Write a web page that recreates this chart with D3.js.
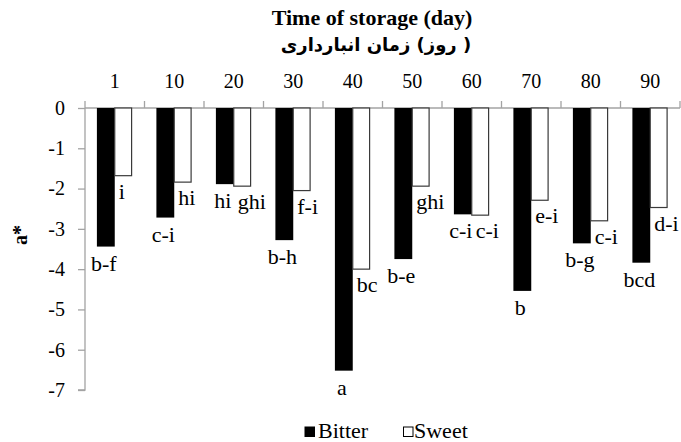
<!DOCTYPE html>
<html>
<head>
<meta charset="utf-8">
<script src="https://cdn.jsdelivr.net/npm/d3@7/dist/d3.min.js"></script>
</head>
<body style="margin:0">
<svg id="chart" width="681" height="442"></svg>
<script>
// Storage days (categories along the top axis)
const days = ["1", "10", "20", "30", "40", "50", "60", "70", "80", "90"];
const seriesNames = ["Bitter", "Sweet"];
// a* colour values per storage day
const bitter = [-3.44, -2.72, -1.89, -3.28, -6.52, -3.75, -2.64, -4.54, -3.36, -3.84];
const sweet  = [-1.68, -1.84, -1.94, -2.05, -4.00, -1.94, -2.66, -2.29, -2.80, -2.47];
// Mean-separation letters
const bitterLetters = ["b-f", "c-i", "hi", "b-h", "a", "b-e", "c-i", "b", "b-g", "bcd"];
const sweetLetters  = ["i", "hi", "ghi", "f-i", "bc", "ghi", "c-i", "e-i", "c-i", "d-i"];
const yTicks = [0, -1, -2, -3, -4, -5, -6, -7];

const svg = d3.select("#chart");
const m = { left: 85, right: 680, top: 108, bottom: 390 };
const axisColor = "#a3a3a3";

// Serif text helper: every label uses the same Times-style face
function roman(sel, size) {
  return sel.attr("font-family", "Times New Roman")
    .style("font-family", "'Times New Roman', 'Liberation Serif', Tinos, serif")
    .attr("font-size", size)
    .attr("fill", "#000");
}

const x0 = d3.scaleBand().domain(days).range([m.left, m.right])
  .paddingInner(0.4).paddingOuter(0.2);
const x1 = d3.scaleBand().domain(seriesNames).range([0, x0.bandwidth()]);
const y = d3.scaleLinear().domain([-7, 0]).range([m.bottom, m.top]);

// Zero line with category boundary ticks
const g = svg.append("g");
g.append("line").attr("x1", m.left).attr("x2", m.right).attr("y1", y(0)).attr("y2", y(0))
  .attr("stroke", axisColor).attr("stroke-width", 1.3);
g.selectAll("line.edge").data(d3.range(days.length + 1)).join("line")
  .attr("class", "edge")
  .attr("x1", i => m.left + i * x0.step()).attr("x2", i => m.left + i * x0.step())
  .attr("y1", y(0)).attr("y2", y(0) - 7)
  .attr("stroke", axisColor).attr("stroke-width", 1.3);

// Day labels above the zero line
roman(g.selectAll("text.day").data(days).join("text")
  .attr("class", "day")
  .attr("x", d => x0(d) + x0.bandwidth() / 2)
  .attr("y", 88)
  .attr("text-anchor", "middle"), 20)
  .text(d => d);

// Left value axis
const yAxis = d3.axisLeft(y).tickValues(yTicks).tickSize(7).tickPadding(13)
  .tickFormat(d3.format("d"));
const ya = svg.append("g").attr("transform", `translate(${m.left},0)`).call(yAxis);
ya.attr("font-family", "Times New Roman");
ya.select(".domain").attr("stroke", axisColor).attr("stroke-width", 1.3)
  .attr("d", `M-7,${y(-7)}H0V${y(0)}`);
ya.selectAll(".tick line").attr("stroke", axisColor).attr("stroke-width", 1.3);
roman(ya.selectAll(".tick text"), 20)
  .text(d => d === 0 ? "0" : "-" + Math.abs(d));

// Bars
const bars = svg.append("g");
bars.selectAll("rect.bitter").data(bitter).join("rect")
  .attr("class", "bitter")
  .attr("x", (d, i) => x0(days[i]) + x1("Bitter"))
  .attr("y", y(0))
  .attr("width", x1.bandwidth())
  .attr("height", d => y(d) - y(0))
  .attr("fill", "#000");
bars.selectAll("rect.sweet").data(sweet).join("rect")
  .attr("class", "sweet")
  .attr("x", (d, i) => x0(days[i]) + x1("Sweet"))
  .attr("y", y(0))
  .attr("width", x1.bandwidth() - 1)
  .attr("height", d => y(d) - y(0))
  .attr("fill", "#fff")
  .attr("stroke", "#3a3a3a").attr("stroke-width", 1.2);

// Letters under each bar
roman(bars.selectAll("text.bl").data(bitter).join("text")
  .attr("class", "bl")
  .attr("x", (d, i) => x0(days[i]) + x1("Bitter") + x1.bandwidth() / 2 - 2)
  .attr("y", d => y(d) + 24)
  .attr("text-anchor", "middle"), 22)
  .text((d, i) => bitterLetters[i]);
roman(bars.selectAll("text.sl").data(sweet).join("text")
  .attr("class", "sl")
  .attr("x", (d, i) => x0(days[i]) + x1("Sweet") + 4)
  .attr("y", d => y(d) + 23)
  .attr("text-anchor", "start"), 22)
  .text((d, i) => sweetLetters[i]);

// Titles
roman(svg.append("text").attr("x", 372).attr("y", 25).attr("text-anchor", "middle"), 22)
  .attr("font-weight", "bold")
  .text("Time of storage (day)");
svg.append("text")
  .attr("x", 376).attr("y", 51).attr("text-anchor", "middle")
  .attr("font-family", "DejaVu Sans")
  .attr("font-size", 18).attr("font-weight", "bold")
  .attr("direction", "rtl")
  .text("( روز) زمان انبارداری");

roman(svg.append("text")
  .attr("transform", "translate(27,235) rotate(-90)")
  .attr("text-anchor", "middle"), 20)
  .attr("font-weight", "bold")
  .text("a*");

// Legend
const legend = svg.append("g");
const legendItems = [
  { name: seriesNames[0], fill: "#000", sx: 305, tx: 318 },
  { name: seriesNames[1], fill: "#fff", sx: 403.5, tx: 414 }
];
legend.selectAll("rect").data(legendItems).join("rect")
  .attr("x", d => d.sx).attr("y", 427).attr("width", 9.5).attr("height", 9.5)
  .attr("fill", d => d.fill).attr("stroke", "#000").attr("stroke-width", 1);
roman(legend.selectAll("text").data(legendItems).join("text")
  .attr("x", d => d.tx).attr("y", 438), 22)
  .text(d => d.name);
</script>
</body>
</html>
